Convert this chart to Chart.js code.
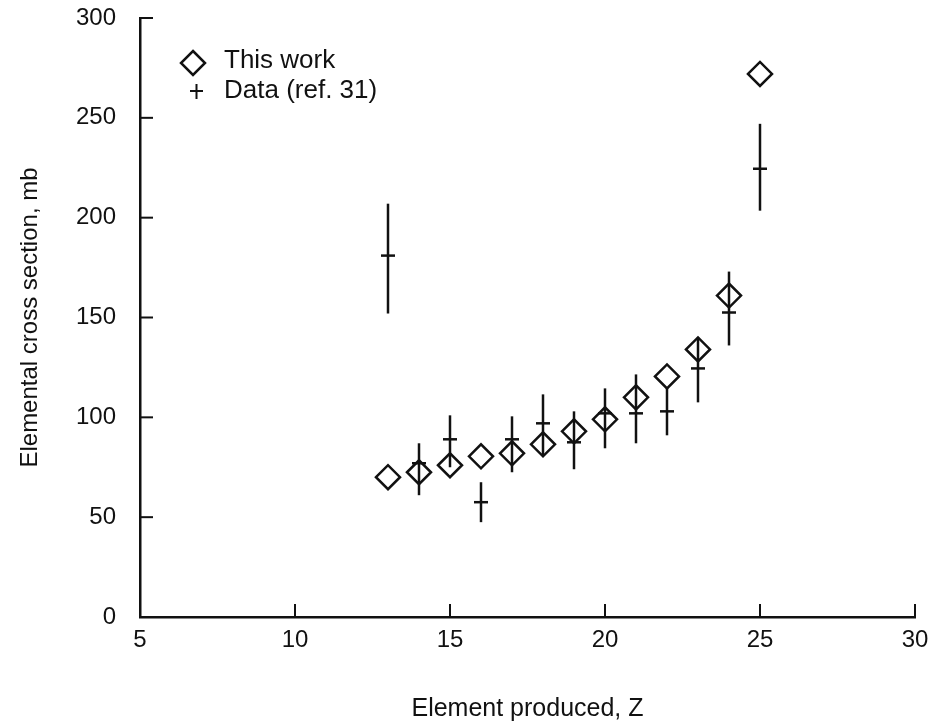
<!DOCTYPE html>
<html lang="en">
<head>
<meta charset="UTF-8">
<title>Elemental cross section</title>
<script src="https://cdn.jsdelivr.net/npm/chart.js@4.4.0/dist/chart.umd.min.js"></script>
<style>
  html, body { margin: 0; padding: 0; background: #fff; }
  canvas { display: block; }
</style>
</head>
<body>
<canvas id="chart" width="932" height="727"></canvas>
<script>
// --- Data ---
const zValues   = [13, 14, 15, 16, 17, 18, 19, 20, 21, 22, 23, 24, 25];
const thisWork  = [70, 72.5, 76, 80.5, 82, 86.5, 93, 99, 110, 120.5, 134, 161, 272];
const dataVal   = [181, 77, 89, 57.5, 89, 97, 87.5, 102, 102, 103, 124.5, 152.5, 224.5];
const dataLow   = [152, 61, 75, 47.5, 72.5, 81, 74, 84.5, 87, 91, 107.5, 136, 203.5];
const dataHigh  = [207, 87, 101, 67.5, 100.5, 111.5, 103, 114.5, 121.5, 115, 140, 173, 247];
const xTicks    = [5, 10, 15, 20, 25, 30];
const yTicks    = [0, 50, 100, 150, 200, 250, 300];
const seriesLabels = ['This work', 'Data (ref. 31)'];

const ink = '#111';
const fontFamily = "'Liberation Sans', Arial, Helvetica, sans-serif";
Chart.defaults.font.family = fontFamily;
Chart.defaults.color = ink;

// error bars, inward ticks and the little legend
const inkPlugin = {
    id: 'ink',
    beforeDatasetsDraw(chart) {
        const { ctx, chartArea, scales: { x, y } } = chart;
        ctx.save();
        ctx.strokeStyle = ink;
        ctx.lineWidth = 2.5;
        // vertical error bars
        zValues.forEach((z, i) => {
            const px = x.getPixelForValue(z);
            ctx.beginPath();
            ctx.moveTo(px, y.getPixelForValue(dataLow[i]));
            ctx.lineTo(px, y.getPixelForValue(dataHigh[i]));
            ctx.stroke();
        });
        // ticks pointing into the plot
        ctx.lineWidth = 2;
        y.ticks.forEach(t => {
            const py = y.getPixelForValue(t.value);
            ctx.beginPath();
            ctx.moveTo(chartArea.left, py);
            ctx.lineTo(chartArea.left + 13, py);
            ctx.stroke();
        });
        x.ticks.forEach(t => {
            const px = x.getPixelForValue(t.value);
            ctx.beginPath();
            ctx.moveTo(px, chartArea.bottom);
            ctx.lineTo(px, chartArea.bottom - 13);
            ctx.stroke();
        });
        ctx.restore();
    },
    afterDraw(chart) {
        const ctx = chart.ctx;
        ctx.save();
        ctx.strokeStyle = ink;
        ctx.fillStyle = ink;
        ctx.lineWidth = 2.5;
        // diamond
        const dx = 193, dy = 63, r = 12;
        ctx.beginPath();
        ctx.moveTo(dx, dy - r);
        ctx.lineTo(dx + r, dy);
        ctx.lineTo(dx, dy + r);
        ctx.lineTo(dx - r, dy);
        ctx.closePath();
        ctx.stroke();
        // plus
        ctx.lineWidth = 2;
        ctx.beginPath();
        ctx.moveTo(190, 91); ctx.lineTo(203, 91);
        ctx.moveTo(196.5, 84); ctx.lineTo(196.5, 99);
        ctx.stroke();
        ctx.font = '26px ' + fontFamily;
        ctx.textBaseline = 'middle';
        ctx.fillText(seriesLabels[0], 224, 61);
        ctx.fillText(seriesLabels[1], 224, 91);
        ctx.restore();
    }
};

new Chart(document.getElementById('chart'), {
    type: 'scatter',
    data: {
        datasets: [
            {
                label: seriesLabels[0],
                data: zValues.map((z, i) => ({ x: z, y: thisWork[i] })),
                pointStyle: 'rectRot',
                pointRadius: 12,
                pointBorderWidth: 2.5,
                borderColor: ink,
                backgroundColor: 'rgba(0,0,0,0)'
            },
            {
                label: seriesLabels[1],
                data: zValues.map((z, i) => ({ x: z, y: dataVal[i] })),
                pointStyle: 'line',
                pointRadius: 7,
                pointBorderWidth: 2.5,
                borderColor: ink,
                backgroundColor: ink
            }
        ]
    },
    options: {
        responsive: false,
        animation: false,
        layout: { padding: { left: 0, top: 18, right: 17, bottom: 0 } },
        plugins: {
            legend: { display: false },
            tooltip: { enabled: false }
        },
        scales: {
            x: {
                type: 'linear',
                min: 5,
                max: 30,
                afterFit: s => {
                    s.height = 110;
                    s.paddingLeft = 0;
                    s.paddingRight = 0;
                },
                afterBuildTicks: s => { s.ticks = xTicks.map(v => ({ value: v })); },
                grid: { display: false, drawTicks: false },
                border: { display: true, color: ink, width: 2.5 },
                ticks: { padding: 9, font: { size: 24 }, color: ink, maxRotation: 0 },
                title: {
                    display: true,
                    text: 'Element produced, Z',
                    font: { size: 25 },
                    color: ink,
                    padding: { top: 0, bottom: 3 }
                }
            },
            y: {
                type: 'linear',
                min: 0,
                max: 300,
                afterFit: s => {
                    s.width = 140;
                    s.paddingTop = 0;
                    s.paddingBottom = 0;
                },
                afterBuildTicks: s => { s.ticks = yTicks.map(v => ({ value: v })); },
                grid: { display: false, drawTicks: false },
                border: { display: true, color: ink, width: 2.5 },
                ticks: { padding: 24, font: { size: 24 }, color: ink },
                title: {
                    display: true,
                    text: 'Elemental cross section, mb',
                    font: { size: 24 },
                    color: ink,
                    padding: { top: 16, bottom: 0 }
                }
            }
        }
    },
    plugins: [inkPlugin]
});
</script>
</body>
</html>
